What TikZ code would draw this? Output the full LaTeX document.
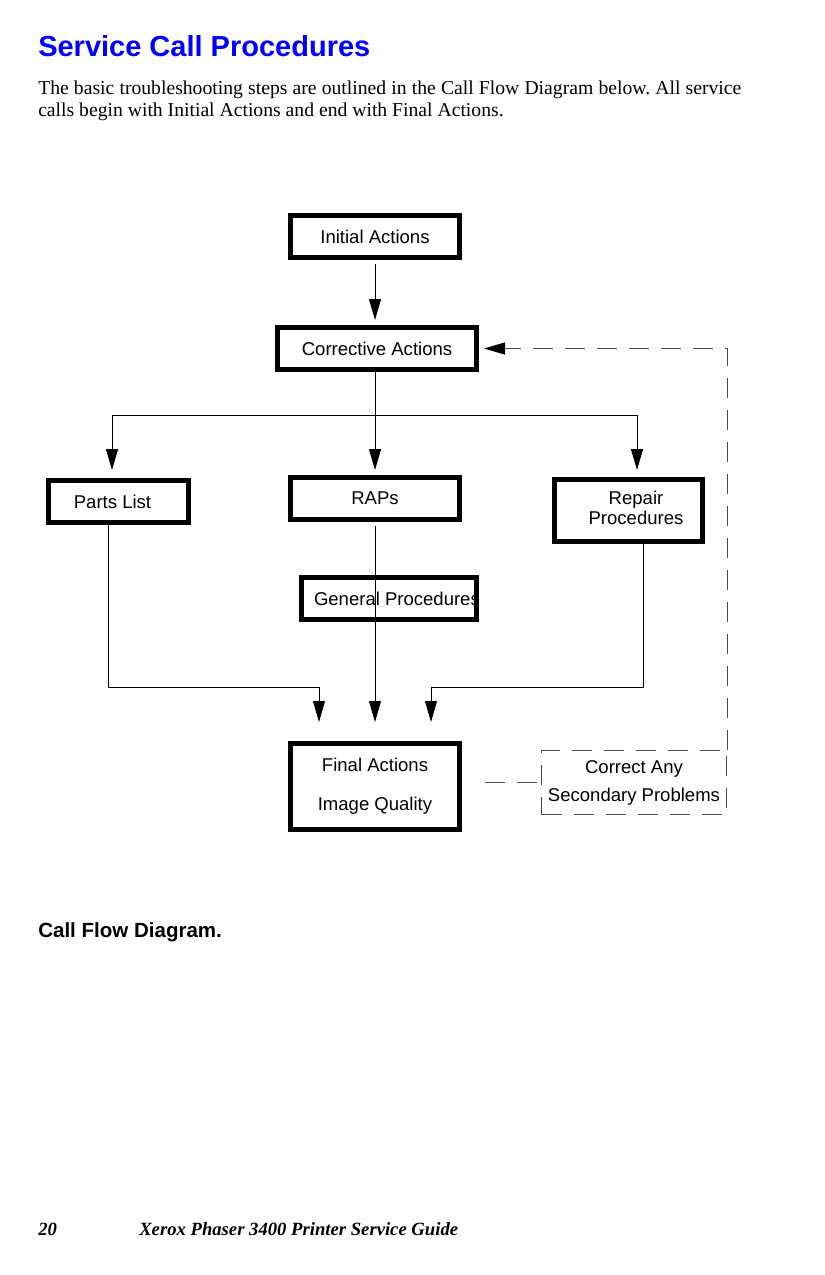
\documentclass[tikz,border=0pt]{standalone}
\usepackage{fontspec}
\setmainfont{Liberation Serif}
\setsansfont{Liberation Sans}
\usetikzlibrary{arrows.meta}
\frenchspacing
\begin{document}
\begin{tikzpicture}[x=0.75pt,y=-0.75pt,
  box/.style={draw, line width=3.75pt, inner sep=0pt, font=\sffamily\fontsize{13.9}{15}\selectfont, align=center, minimum height=31.5pt},
  arr/.style={line width=0.75pt, -{Triangle[length=15.75pt,width=9pt]}},
  thinline/.style={line width=0.75pt},
  dsh/.style={line width=0.75pt, draw=black!70, dash pattern=on 15pt off 9pt},
  txt/.style={anchor=base west, inner sep=0pt}
]
\useasboundingbox (0,0) rectangle (825,1275);

% header text
\node[txt, text={rgb,255:red,0;green,0;blue,255}, font=\sffamily\bfseries\fontsize{21.75}{26}\selectfont] (title) at (38,56) {Service Call Procedures};
\node[txt, font=\fontsize{14.75}{16.5}\selectfont] (body1) at (38,94) {\makebox[527.25pt][s]{The basic troubleshooting steps are outlined in the Call Flow Diagram below. All service}};
\node[txt, font=\fontsize{14.75}{16.5}\selectfont] (body2) at (38,116) {calls begin with Initial Actions and end with Final Actions.};

% boxes
\node[box, minimum width=126.75pt] (init) at (375,236.5) {Initial Actions};
\node[box, minimum width=149.25pt] (corr) at (377,348.5) {Corrective Actions};
\node[box, minimum width=105pt] (parts) at (118.5,501.5) {\hspace*{-9pt}Parts List};
\node[box, minimum width=126.75pt] (raps) at (375,498.5) {RAPs};
\node[box, minimum width=111pt, minimum height=46.5pt] (repair) at (628.5,510.5) {\hspace*{11.25pt}\begin{tabular}{@{}c@{}}Repair\\Procedures\end{tabular}};
\node[box, minimum width=131.25pt] (genp) at (389,598.5) {\makebox[127.5pt][l]{\hspace*{7.5pt}General Procedures}};
\node[box, minimum width=126.75pt, minimum height=64.5pt] (final) at (375,786.5) {Final Actions\\[14.25pt]Image Quality};
\node[box, dsh, minimum width=138.75pt, minimum height=48pt] (corany) at (634,782.5) {Correct Any\\[6pt]Secondary Problems};

% connectors
\draw[arr, shorten <=3pt, shorten >=3.75pt] (init.south) -- (init.south |- corr.north);
\draw[arr, shorten >=3.75pt] (corr.south -| raps.north) -- (raps.north);
\coordinate (busL) at (112,415);
\coordinate (busR) at (637,415);
\draw[thinline] (busL) -- (busR);
\draw[arr, shorten >=6pt] (busL) -- (busL |- parts.north);
\draw[arr, shorten >=5.25pt] (busR) -- (busR |- repair.north);
\draw[arr, shorten >=14.25pt] ([xshift=-7.875pt]parts.south) |- ([xshift=-42pt,yshift=40.5pt]final.north) -- ([xshift=-42pt]final.north);
\draw[arr, shorten <=3pt, shorten >=14.25pt] (raps.south) -- (final.north);
\draw[arr, shorten >=14.25pt] ([xshift=10.875pt]repair.south) |- ([xshift=42pt,yshift=40.5pt]final.north) -- ([xshift=42pt]final.north);
\draw[dsh, -{Triangle[length=15.75pt,width=9pt,color=black]}, shorten >=3.75pt] (corany.north east) |- (corr.east);
\draw[dsh, shorten <=17.25pt] (final.east |- corany.west) -- (corany.west);

% caption and footer
\node[txt, font=\sffamily\bfseries\fontsize{15.4}{18}\selectfont] (cap) at (38,937) {Call Flow Diagram.};
\node[txt, font=\bfseries\itshape\fontsize{14}{16}\selectfont] (pg) at (38,1235) {20};
\node[txt, font=\bfseries\itshape\fontsize{14}{16}\selectfont] (guide) at (139,1235) {Xerox Phaser 3400 Printer Service Guide};
\end{tikzpicture}
\end{document}
